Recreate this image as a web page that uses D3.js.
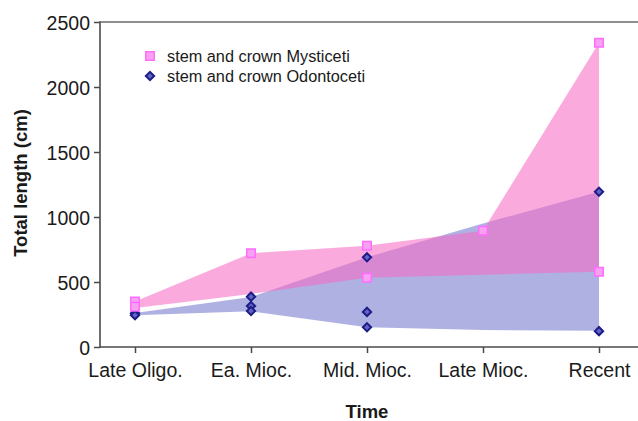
<!DOCTYPE html>
<html>
<head>
<meta charset="utf-8">
<script src="https://cdn.jsdelivr.net/npm/d3@7"></script>
<style>
  html, body { margin: 0; padding: 0; background: #fff; }
  svg { display: block; font-family: "Liberation Sans", Arial, sans-serif; }
</style>
</head>
<body>
<svg id="chart" width="638" height="421"></svg>
<script>
// Time bins along the x axis
const periods = ["Late Oligo.", "Ea. Mioc.", "Mid. Mioc.", "Late Mioc.", "Recent"];

// Body-length envelopes (cm) per time bin
const mystUpper = [350, 721, 779, 895, 2340];
const mystLower = [300, 408, 533, 556, 579];
const odonUpper = [262, 385, 690, 950, 1194];
const odonLower = [245, 275, 152, 130, 125];

// Individual specimen lengths (cm) plotted as markers
const mystPoints = [[350, 310], [721], [779, 533], [895], [2340, 579]];
const odonPoints = [[260, 245], [387, 315, 277], [690, 270, 152], [], [1194, 122]];

const yTicks = [0, 500, 1000, 1500, 2000, 2500];
const legendLabels = ["stem and crown Mysticeti", "stem and crown Odontoceti"];

const svg = d3.select("#chart");
const plotLeft = 100, plotRight = 638, plotTop = 22, plotBottom = 347;

const x = d3.scalePoint().domain(periods).range([135, 599]);
const y = d3.scaleLinear().domain([0, 2500]).range([plotBottom, plotTop]);

const blueFill = "#b0b1e3";
const pinkFill = "rgb(246,106,194)";

function envelope(upper, lower) {
  const rows = periods.map((p, i) => ({ p, hi: upper[i], lo: lower[i] }));
  return d3.area()
    .x(d => x(d.p))
    .y0(d => y(d.lo))
    .y1(d => y(d.hi))(rows);
}

// Odontoceti envelope underneath, Mysticeti translucent on top
svg.append("path").attr("d", envelope(odonUpper, odonLower)).attr("fill", blueFill);
svg.append("path").attr("d", envelope(mystUpper, mystLower))
  .attr("fill", pinkFill).attr("fill-opacity", 0.57);

// Axes
const axisColor = "#4a4a4a";
const yAxis = svg.append("g").attr("transform", `translate(${plotLeft},0)`)
  .call(d3.axisLeft(y).tickValues(yTicks).tickSize(6).tickPadding(4).tickFormat(d3.format("d")));
const xAxis = svg.append("g").attr("transform", `translate(0,${plotBottom})`)
  .call(d3.axisBottom(x).tickSize(6).tickPadding(10));

[yAxis, xAxis].forEach(g => {
  g.select(".domain").remove();
  g.selectAll(".tick line").attr("stroke", axisColor).attr("stroke-width", 1.5);
  g.selectAll(".tick text").attr("fill", "#1a1a1a").style("font-size", "19.5px");
});
yAxis.selectAll(".tick text").attr("dy", "0.36em");

svg.append("line").attr("x1", plotLeft).attr("x2", plotLeft).attr("y1", plotTop - 0.75).attr("y2", plotBottom + 0.75)
  .attr("stroke", axisColor).attr("stroke-width", 1.6);
svg.append("line").attr("x1", plotLeft).attr("x2", plotRight).attr("y1", plotBottom).attr("y2", plotBottom)
  .attr("stroke", axisColor).attr("stroke-width", 1.6);
svg.append("line").attr("x1", plotLeft).attr("x2", plotRight).attr("y1", plotTop).attr("y2", plotTop)
  .attr("stroke", "#6a6a6a").attr("stroke-width", 1.6);

// Markers
const squareSym = d3.symbol().type(d3.symbolSquare).size(72);
const diamondSym = d3.symbol().type(d3.symbolDiamond2).size(44);

const odonFlat = odonPoints.flatMap((vals, i) => vals.map(v => ({ p: periods[i], v })));
const mystFlat = mystPoints.flatMap((vals, i) => vals.map(v => ({ p: periods[i], v })));

svg.append("g").selectAll("path").data(odonFlat).join("path")
  .attr("d", diamondSym)
  .attr("transform", d => `translate(${x(d.p)},${y(d.v)})`)
  .attr("fill", "#6464c4").attr("stroke", "#1c1c88").attr("stroke-width", 2);

svg.append("g").selectAll("path").data(mystFlat).join("path")
  .attr("d", squareSym)
  .attr("transform", d => `translate(${x(d.p)},${y(d.v)})`)
  .attr("fill", "#f7a2f0").attr("stroke", "#ff6cff").attr("stroke-width", 1.5);

// Legend
const legend = svg.append("g");
legend.append("path").attr("d", squareSym).attr("transform", "translate(150,56)")
  .attr("fill", "#f7a2f0").attr("stroke", "#ff6cff").attr("stroke-width", 1.5);
legend.append("path").attr("d", diamondSym).attr("transform", "translate(150,76)")
  .attr("fill", "#6464c4").attr("stroke", "#1c1c88").attr("stroke-width", 2);
legend.selectAll("text").data(legendLabels).join("text")
  .attr("x", 167).attr("y", (d, i) => 56 + i * 20).attr("dy", "0.36em")
  .style("font-size", "16.3px").attr("fill", "#1a1a1a").text(d => d);

// Axis titles
svg.append("text").attr("x", (x(periods[0]) + x(periods[4])) / 2).attr("y", 418)
  .attr("text-anchor", "middle").style("font-size", "18.5px").style("font-weight", "bold")
  .attr("fill", "#1a1a1a").text("Time");
svg.append("text").attr("transform", "translate(27,183) rotate(-90)")
  .attr("text-anchor", "middle").style("font-size", "18.5px").style("font-weight", "bold")
  .attr("fill", "#1a1a1a").text("Total length (cm)");
</script>
</body>
</html>
